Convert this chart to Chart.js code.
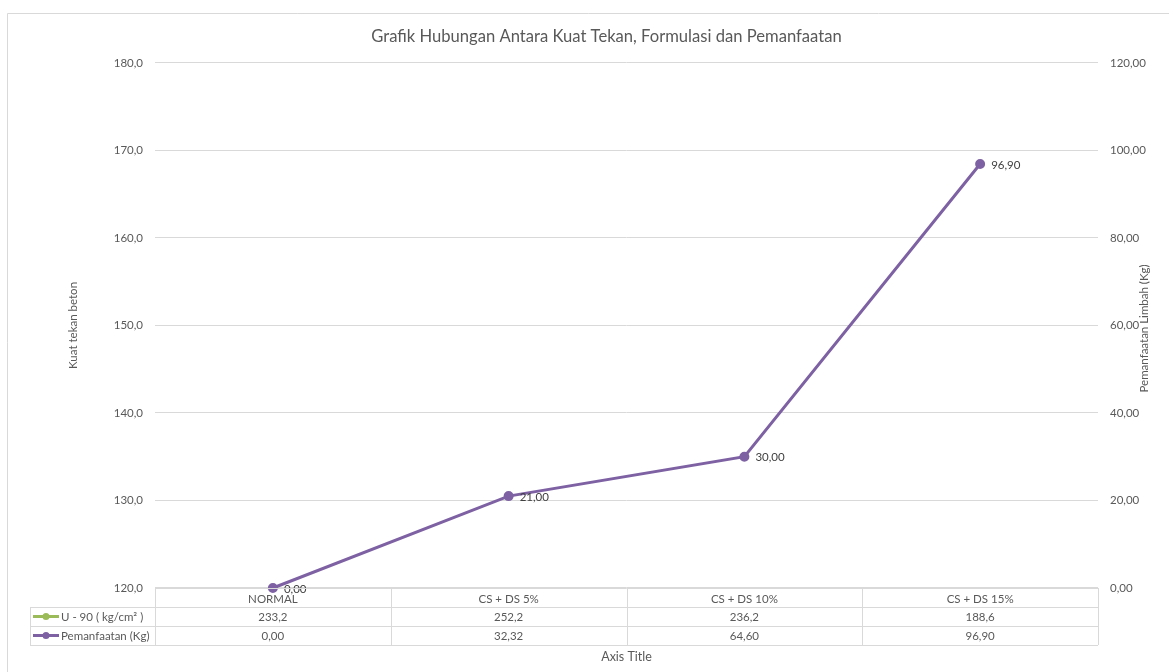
<!DOCTYPE html>
<html>
<head>
<meta charset="utf-8">
<script src="https://cdn.jsdelivr.net/npm/chart.js@4.4.1/dist/chart.umd.min.js"></script>
<style>
  html, body { margin: 0; padding: 0; background: #ffffff; }
  #wrap { width: 1169px; height: 672px; position: relative; }
</style>
</head>
<body>
<div id="wrap"><canvas id="chart" width="1169" height="672"></canvas></div>
<script>
// Categories and series
const categories = ['NORMAL', 'CS + DS 5%', 'CS + DS 10%', 'CS + DS 15%'];
const kuatTekan = [233.2, 252.2, 236.2, 188.6];          // U - 90 ( kg/cm² )
const pemanfaatanPlot = [0.00, 21.00, 30.00, 96.90];     // plotted & labelled values
const pemanfaatanTable = [0.00, 32.32, 64.60, 96.90];    // values listed in the data table
const leftTicks = [120, 130, 140, 150, 160, 170, 180];
const rightTicks = [0, 20, 40, 60, 80, 100, 120];

const seriesNames = ['U - 90 ( kg/cm² )', 'Pemanfaatan (Kg)'];
const GREEN = '#9bbb59';
const PURPLE = '#7d61a3';
const TEXT = '#595959';
const GRID = '#d9d9d9';
const FONT = 'Lato, "Open Sans", sans-serif';
const FS = 11.5;

const fmt = (v, d) => v.toFixed(d).replace('.', ',');

// Frame + right-hand axis title + point labels + data table
const decorations = {
  id: 'decorations',
  beforeDraw(chart) {
    const ctx = chart.ctx;
    ctx.save();
    ctx.fillStyle = '#ffffff';
    ctx.fillRect(0, 0, chart.width, chart.height);
    ctx.strokeStyle = GRID;
    ctx.lineWidth = 1;
    ctx.beginPath();
    ctx.moveTo(7.5, 672);
    ctx.lineTo(7.5, 13.5);
    ctx.lineTo(1169, 13.5);
    ctx.stroke();
    ctx.restore();
  },
  afterDraw(chart) {
    const ctx = chart.ctx;
    const xs = chart.scales.x;
    const ca = chart.chartArea;
    ctx.save();

    // right axis title, reading bottom to top
    ctx.fillStyle = TEXT;
    ctx.font = FS + 'px ' + FONT;
    ctx.textAlign = 'center';
    ctx.textBaseline = 'middle';
    ctx.translate(1144, (ca.top + ca.bottom) / 2 + 3);
    ctx.rotate(-Math.PI / 2);
    ctx.fillText('Pemanfaatan Limbah (Kg)', 0, 0);
    ctx.setTransform(1, 0, 0, 1, 0, 0);

    // value labels beside the Pemanfaatan points
    const meta = chart.getDatasetMeta(1);
    ctx.font = FS + 'px ' + FONT;
    ctx.textAlign = 'left';
    ctx.fillStyle = '#404040';
    meta.data.forEach((pt, i) => {
      ctx.fillText(fmt(pemanfaatanPlot[i], 2), pt.x + 11, pt.y + 1);
    });

    // data table under the plot
    const rowH = 19;
    const top = ca.bottom;
    const left = ca.left, right = ca.right;
    const keyLeft = 30;
    const step = (right - left) / categories.length;
    ctx.strokeStyle = GRID;
    ctx.lineWidth = 1;
    ctx.beginPath();
    // horizontal rules
    ctx.moveTo(left, Math.round(top) + 0.5);
    ctx.lineTo(right, Math.round(top) + 0.5);
    for (let r = 1; r <= 3; r++) {
      const y = Math.round(top + r * rowH) + 0.5;
      ctx.moveTo(keyLeft, y);
      ctx.lineTo(right, y);
    }
    // vertical rules
    ctx.moveTo(keyLeft + 0.5, Math.round(top + rowH));
    ctx.lineTo(keyLeft + 0.5, Math.round(top + 3 * rowH));
    for (let c = 0; c <= categories.length; c++) {
      const x = Math.round(left + c * step) + 0.5;
      ctx.moveTo(x, Math.round(top));
      ctx.lineTo(x, Math.round(top + 3 * rowH));
    }
    ctx.stroke();

    // legend keys in the first column
    const keyColors = [GREEN, PURPLE];
    seriesNames.forEach((name, r) => {
      const y = top + rowH * (r + 1) + rowH / 2;
      ctx.strokeStyle = keyColors[r];
      ctx.lineWidth = 3;
      ctx.beginPath();
      ctx.moveTo(33, y);
      ctx.lineTo(59, y);
      ctx.stroke();
      ctx.fillStyle = keyColors[r];
      ctx.beginPath();
      ctx.arc(46, y, 3.5, 0, Math.PI * 2);
      ctx.fill();
      ctx.fillStyle = TEXT;
      ctx.font = FS + 'px ' + FONT;
      ctx.textAlign = 'left';
      ctx.fillText(name, 61, y + 0.5);
    });

    // table values
    ctx.textAlign = 'center';
    ctx.fillStyle = TEXT;
    categories.forEach((c, i) => {
      const x = xs.getPixelForValue(i);
      ctx.fillText(fmt(kuatTekan[i], 1), x, top + rowH * 1.5 + 0.5);
      ctx.fillText(fmt(pemanfaatanTable[i], 2), x, top + rowH * 2.5 + 0.5);
    });
    ctx.restore();
  }
};

new Chart(document.getElementById('chart'), {
  type: 'line',
  data: {
    labels: categories,
    datasets: [
      {
        label: seriesNames[0],
        data: kuatTekan,
        yAxisID: 'y',
        borderColor: GREEN,
        backgroundColor: GREEN,
        borderWidth: 3,
        pointRadius: 3.5,
        clip: 0
      },
      {
        label: seriesNames[1],
        data: pemanfaatanPlot,
        yAxisID: 'y1',
        borderColor: PURPLE,
        backgroundColor: PURPLE,
        borderWidth: 3,
        pointRadius: 3.5,
        pointHoverRadius: 3.5,
        clip: false
      }
    ]
  },
  options: {
    responsive: false,
    animation: false,
    events: [],
    layout: { padding: { left: 62, right: 18, top: 0, bottom: 8 } },
    plugins: {
      legend: { display: false },
      tooltip: { enabled: false },
      title: {
        display: true,
        text: 'Grafik Hubungan Antara Kuat Tekan, Formulasi dan Pemanfaatan',
        color: TEXT,
        font: { family: FONT, size: 16.6, weight: 'normal' },
        padding: { top: 27, bottom: 16 }
      }
    },
    scales: {
      x: {
        offset: true,
        grid: { display: false, drawTicks: false },
        border: { display: false },
        ticks: { color: TEXT, font: { family: FONT, size: FS }, padding: 4, maxRotation: 0 },
        title: { display: true, text: 'Axis Title', color: TEXT, font: { family: FONT, size: 12.5 }, padding: 0 },
        afterFit(scale) { scale.height = 76; }
      },
      y: {
        position: 'left',
        min: leftTicks[0],
        max: leftTicks[leftTicks.length - 1],
        afterBuildTicks(scale) { scale.ticks = leftTicks.map(v => ({ value: v })); },
        grid: { color: GRID, drawTicks: false },
        border: { display: false },
        ticks: { color: TEXT, font: { family: FONT, size: FS }, padding: 12, callback: v => fmt(v, 1) },
        title: { display: true, text: 'Kuat tekan beton', color: TEXT, font: { family: FONT, size: FS } },
        afterFit(scale) { scale.width = 93; }
      },
      y1: {
        position: 'right',
        min: rightTicks[0],
        max: rightTicks[rightTicks.length - 1],
        afterBuildTicks(scale) { scale.ticks = rightTicks.map(v => ({ value: v })); },
        grid: { display: false, drawTicks: false },
        border: { display: false },
        ticks: { color: TEXT, font: { family: FONT, size: FS }, padding: 12, callback: v => fmt(v, 2) },
        afterFit(scale) { scale.width = 53; }
      }
    }
  },
  plugins: [decorations]
});
</script>
</body>
</html>
